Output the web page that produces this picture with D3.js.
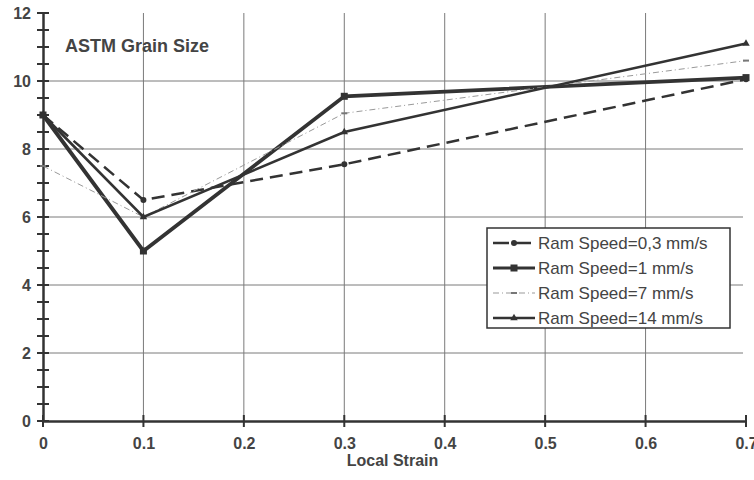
<!DOCTYPE html>
<html>
<head>
<meta charset="utf-8">
<script src="https://cdn.jsdelivr.net/npm/d3@7"></script>
<style>
  body { margin: 0; background: #fff; }
  svg text { font-family: "Liberation Sans Narrow", "Liberation Sans", Arial, sans-serif; }
</style>
</head>
<body>
<div id="chart"></div>
<script>
// data
const strains = [0, 0.1, 0.3, 0.7];
const speed03 = [9.0, 6.5, 7.55, 10.05];
const speed1 = [9.0, 5.0, 9.55, 10.1];
const speed7 = [7.5, 6.0, 9.05, 10.6];
const speed14 = [9.0, 6.0, 8.5, 11.1];
const seriesNames = ['Ram Speed=0,3 mm/s', 'Ram Speed=1 mm/s', 'Ram Speed=7 mm/s', 'Ram Speed=14 mm/s'];
const xTicks = [0, 0.1, 0.2, 0.3, 0.4, 0.5, 0.6, 0.7];
const yTicks = [0, 2, 4, 6, 8, 10, 12];

const width = 754, height = 480;
const margin = { top: 13, right: 8, bottom: 59, left: 43 };
const innerW = width - margin.left - margin.right;
const innerH = height - margin.top - margin.bottom;

const svg = d3.select('#chart').append('svg')
    .attr('width', width)
    .attr('height', height)
    .style('background', '#fff');

const g = svg.append('g')
    .attr('transform', `translate(${margin.left},${margin.top})`);

const x = d3.scaleLinear().domain([0, 0.7]).range([0, innerW]);
const y = d3.scaleLinear().domain([0, 12]).range([innerH, 0]);

const ink = '#333';
const gridColor = '#7a7a7a';

// grid lines
g.append('g')
    .selectAll('line')
    .data(yTicks.filter(d => d > 0 && d < 12))
    .enter().append('line')
    .attr('x1', 0).attr('x2', innerW - 3)
    .attr('y1', d => y(d)).attr('y2', d => y(d))
    .style('stroke', gridColor).style('stroke-width', 1);

g.append('g')
    .selectAll('line')
    .data(xTicks.filter(d => d > 0 && d < 0.7))
    .enter().append('line')
    .attr('x1', d => x(d)).attr('x2', d => x(d))
    .attr('y1', 0).attr('y2', innerH)
    .style('stroke', gridColor).style('stroke-width', 1);

// y axis with minor ticks every 0.5
const yAxis = d3.axisLeft(y).tickValues(yTicks).tickSize(0).tickPadding(12).tickFormat(d3.format('d'));
const yAxisGroup = g.append('g').call(yAxis);
yAxisGroup.select('.domain').style('stroke', ink).style('stroke-width', 2.5);
yAxisGroup.selectAll('text')
    .style('font-size', '16px').style('font-weight', 'bold').style('fill', '#444');

g.append('g')
    .selectAll('line')
    .data(d3.range(0, 12.01, 0.5))
    .enter().append('line')
    .attr('x1', -6).attr('x2', 6)
    .attr('y1', d => y(d)).attr('y2', d => y(d))
    .style('stroke', ink).style('stroke-width', 2);

// x axis
const xAxis = d3.axisBottom(x).tickValues(xTicks).tickSize(0).tickPadding(17)
    .tickFormat(d => d === 0 ? '0' : d3.format('.1f')(d));
const xAxisGroup = g.append('g')
    .attr('transform', `translate(0,${innerH})`)
    .call(xAxis);
xAxisGroup.select('.domain').style('stroke', ink).style('stroke-width', 2.5);
xAxisGroup.selectAll('text')
    .style('font-size', '16px').style('font-weight', 'bold').style('fill', '#444');

g.append('g')
    .selectAll('line')
    .data(xTicks)
    .enter().append('line')
    .attr('x1', d => x(d)).attr('x2', d => x(d))
    .attr('y1', innerH - 6).attr('y2', innerH + 6)
    .style('stroke', ink).style('stroke-width', 2);

// axis title
svg.append('text')
    .attr('x', margin.left + x(0.35) - 2)
    .attr('y', 466)
    .attr('text-anchor', 'middle')
    .style('font-size', '16px').style('font-weight', 'bold').style('fill', '#444')
    .text('Local Strain');

// inner title
svg.append('text')
    .attr('x', 65)
    .attr('y', 52)
    .style('font-family', '"Liberation Sans", Arial, sans-serif')
    .style('font-size', '18px').style('font-weight', 'bold').style('fill', '#444')
    .text('ASTM Grain Size');

// series
const series = [
    { name: seriesNames[0], values: speed03, width: 2.5, dash: '13,7', color: ink, marker: 'circle' },
    { name: seriesNames[1], values: speed1, width: 3.8, dash: null, color: ink, marker: 'square' },
    { name: seriesNames[2], values: speed7, width: 1, dash: '6,3,1,3', color: '#999', marker: 'dash' },
    { name: seriesNames[3], values: speed14, width: 2.6, dash: null, color: ink, marker: 'triangle' }
];

const line = d3.line()
    .x(d => x(d[0]))
    .y(d => y(d[1]));

function drawMarker(sel, s, px, py) {
    if (s.marker === 'circle') {
        sel.append('circle').attr('cx', px).attr('cy', py).attr('r', 3).style('fill', s.color);
    } else if (s.marker === 'square') {
        sel.append('rect').attr('x', px - 3.5).attr('y', py - 3.5).attr('width', 7).attr('height', 7).style('fill', s.color);
    } else if (s.marker === 'triangle') {
        sel.append('path').attr('d', d3.symbol(d3.symbolTriangle, 24)()).attr('transform', `translate(${px},${py})`).style('fill', s.color);
    } else {
        sel.append('line').attr('x1', px - 3).attr('x2', px + 3).attr('y1', py).attr('y2', py)
            .style('stroke', '#777').style('stroke-width', 2);
    }
}

series.forEach(s => {
    const pts = strains.map((st, i) => [st, s.values[i]]);
    g.append('path')
        .datum(pts)
        .attr('d', line)
        .style('fill', 'none')
        .style('stroke', s.color)
        .style('stroke-width', s.width)
        .style('stroke-dasharray', s.dash);
    const mg = g.append('g');
    pts.forEach(p => drawMarker(mg, s, x(p[0]), y(p[1])));
});

// legend
const legend = svg.append('g').attr('transform', 'translate(487,228)');
legend.append('rect')
    .attr('width', 243).attr('height', 100)
    .style('fill', '#fff').style('stroke', ink).style('stroke-width', 1.5);

series.forEach((s, i) => {
    const ly = 15 + i * 25;
    legend.append('line')
        .attr('x1', 6).attr('x2', 48).attr('y1', ly).attr('y2', ly)
        .style('stroke', s.color)
        .style('stroke-width', Math.min(s.width, 3))
        .style('stroke-dasharray', s.dash ? (s.marker === 'circle' ? '16,6' : s.dash) : null);
    drawMarker(legend, s, 27, ly);
    legend.append('text')
        .attr('x', 51).attr('y', ly + 6)
        .style('font-family', '"Liberation Sans", Arial, sans-serif')
        .style('font-size', '17px').style('fill', '#444')
        .text(s.name);
});
</script>
</body>
</html>
